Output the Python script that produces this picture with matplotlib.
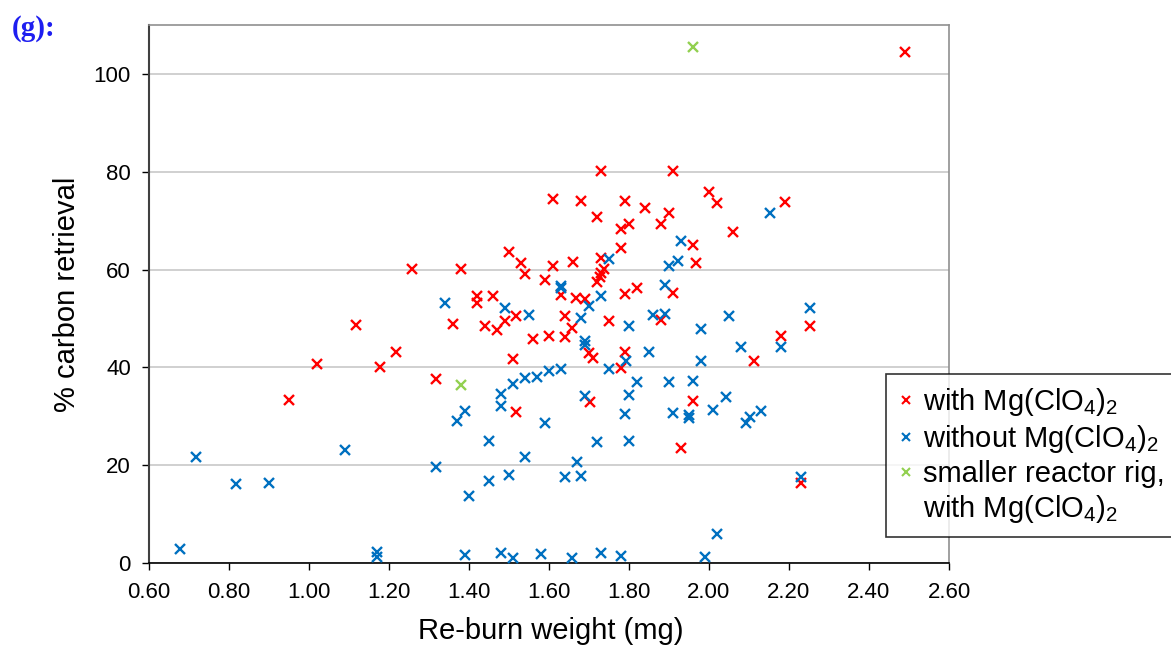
import numpy as np
import matplotlib
matplotlib.use("Agg")
import matplotlib.pyplot as plt
from matplotlib.lines import Line2D

plt.rcParams['font.family'] = ['Liberation Sans', 'DejaVu Sans']
plt.rcParams['mathtext.fontset'] = 'custom'
plt.rcParams['mathtext.rm'] = 'Liberation Sans'

# datos: re-burn weight (mg) y % carbon retrieval
with_x = [0.949, 1.02, 1.118, 1.178, 1.218, 1.258, 1.318, 1.36, 1.379, 1.42, 1.42, 1.441,
          1.46, 1.469, 1.489, 1.499, 1.51, 1.518, 1.518, 1.529, 1.54, 1.56, 1.591, 1.601,
          1.61, 1.61, 1.629, 1.639, 1.639, 1.658, 1.659, 1.668, 1.679, 1.689, 1.70, 1.702,
          1.71, 1.72, 1.72, 1.727, 1.729, 1.729, 1.731, 1.737, 1.751, 1.781, 1.781, 1.781,
          1.791, 1.791, 1.791, 1.80, 1.82, 1.84, 1.881, 1.881, 1.90, 1.91, 1.91, 1.931,
          1.96, 1.96, 1.968, 2.0, 2.02, 2.06, 2.112, 2.181, 2.19, 2.231, 2.252, 2.49]
with_y = [33.3, 40.7, 48.7, 40.1, 43.1, 60.1, 37.6, 48.9, 60.1, 54.6, 53.2, 48.5,
          54.6, 47.6, 49.5, 63.5, 41.7, 50.5, 30.9, 61.4, 59.0, 45.9, 57.9, 46.4,
          74.5, 60.8, 54.8, 50.6, 46.2, 48.0, 61.6, 54.1, 74.0, 53.9, 42.9, 33.0,
          41.9, 70.8, 57.5, 58.4, 80.2, 62.3, 59.2, 60.1, 49.5, 68.2, 64.4, 39.8,
          74.0, 55.0, 43.2, 69.3, 56.3, 72.5, 69.3, 49.6, 71.6, 80.2, 55.3, 23.5,
          65.1, 33.2, 61.3, 75.8, 73.7, 67.7, 41.2, 46.4, 73.8, 16.4, 48.5, 104.4]

without_x = [0.678, 0.718, 0.818, 0.899, 1.09, 1.169, 1.169, 1.318, 1.339, 1.37, 1.389, 1.39,
             1.399, 1.45, 1.45, 1.479, 1.479, 1.479, 1.489, 1.499, 1.51, 1.51, 1.54, 1.54,
             1.549, 1.569, 1.581, 1.591, 1.601, 1.629, 1.629, 1.629, 1.64, 1.658, 1.67, 1.679,
             1.679, 1.689, 1.691, 1.691, 1.70, 1.72, 1.729, 1.729, 1.75, 1.751, 1.781, 1.791,
             1.793, 1.80, 1.80, 1.80, 1.82, 1.85, 1.861, 1.889, 1.889, 1.90, 1.90, 1.91,
             1.922, 1.931, 1.95, 1.95, 1.96, 1.981, 1.981, 1.991, 2.01, 2.02, 2.042, 2.05,
             2.081, 2.092, 2.102, 2.131, 2.152, 2.181, 2.231, 2.252]
without_y = [2.9, 21.6, 16.2, 16.4, 23.1, 2.3, 1.3, 19.7, 53.1, 29.0, 31.1, 1.6,
             13.6, 24.9, 16.8, 34.5, 32.0, 2.0, 52.1, 18.0, 36.7, 1.0, 37.8, 21.7,
             50.7, 38.1, 1.8, 28.7, 39.3, 56.7, 56.2, 39.6, 17.5, 1.0, 20.7, 50.0,
             17.7, 34.2, 45.3, 44.6, 52.6, 24.7, 54.6, 2.0, 62.1, 39.7, 1.4, 30.5,
             41.2, 48.5, 34.3, 24.9, 37.0, 43.1, 50.7, 50.9, 56.9, 60.8, 37.0, 30.7,
             61.8, 65.8, 30.2, 29.6, 37.3, 47.9, 41.4, 1.3, 31.3, 5.9, 33.9, 50.4,
             44.2, 28.7, 29.8, 31.1, 71.5, 44.2, 17.5, 52.1]

small_x = [1.379, 1.96]
small_y = [36.3, 105.6]

xticks = np.arange(0.6, 2.61, 0.2)
yticks = [0, 20, 40, 60, 80, 100]

fig = plt.figure(figsize=(11.71, 6.51), dpi=100)
ax = fig.add_axes([149/1171, 1-563/651, 800/1171, 538/651])

ms, mw = 7.5, 1.7
ax.plot(with_x, with_y, ls='none', marker='x', ms=ms, mew=mw, color='#FF0000', zorder=3)
ax.plot(without_x, without_y, ls='none', marker='x', ms=ms, mew=mw, color='#0070C0', zorder=3)
ax.plot(small_x, small_y, ls='none', marker='x', ms=ms, mew=mw, color='#92D050', zorder=3)

ax.set_xlim(0.6, 2.6)
ax.set_ylim(0, 110)
ax.set_xticks(xticks)
ax.set_xticklabels(["%.2f" % v for v in xticks])
ax.set_yticks(yticks)
ax.grid(axis='y', color='#C8C8C8', lw=1.2)
ax.set_axisbelow(True)

for s in ['top', 'right']:
    ax.spines[s].set_color('#909090')
    ax.spines[s].set_linewidth(1.2)
ax.spines['left'].set_color('#404040')
ax.spines['left'].set_linewidth(1.5)
ax.spines['bottom'].set_color('#000000')
ax.spines['bottom'].set_linewidth(1.2)

ax.tick_params(axis='both', direction='out', length=5, width=1, labelsize=16, colors='#000000')
ax.tick_params(axis='x', pad=9)
ax.tick_params(axis='y', pad=8)

ax.set_xlabel("Re-burn weight (mg)", fontsize=21)
ax.set_ylabel("% carbon retrieval", fontsize=21)
ax.xaxis.set_label_coords(0.502, -0.101)
ax.yaxis.set_label_coords(-0.085, 0.5)

fig.text(12/1171, 1-28/651, "(g):", family='Liberation Serif', fontweight='bold',
         fontsize=21, color='#1E1EF0', va='center', ha='left')

mg = r"Mg(ClO$_\mathregular{4}$)$_\mathregular{2}$"
handles = [Line2D([], [], ls='none', marker='x', ms=6, mew=1.5, color=c)
           for c in ['#FF0000', '#0070C0', '#92D050']]
handles.append(Line2D([], [], ls='none'))
labels = ["with " + mg, "without " + mg, "smaller reactor rig,", "with " + mg]
leg = fig.legend(handles, labels, loc='lower left', bbox_to_anchor=(886/1171, 1-537/651),
                 fontsize=21, frameon=True, fancybox=False, edgecolor='#000000',
                 borderaxespad=0, borderpad=0.42, labelspacing=0.17,
                 handlelength=0.55, handletextpad=0.3)
leg.get_frame().set_linewidth(1.2)

fig.savefig("out.png", dpi=100)
